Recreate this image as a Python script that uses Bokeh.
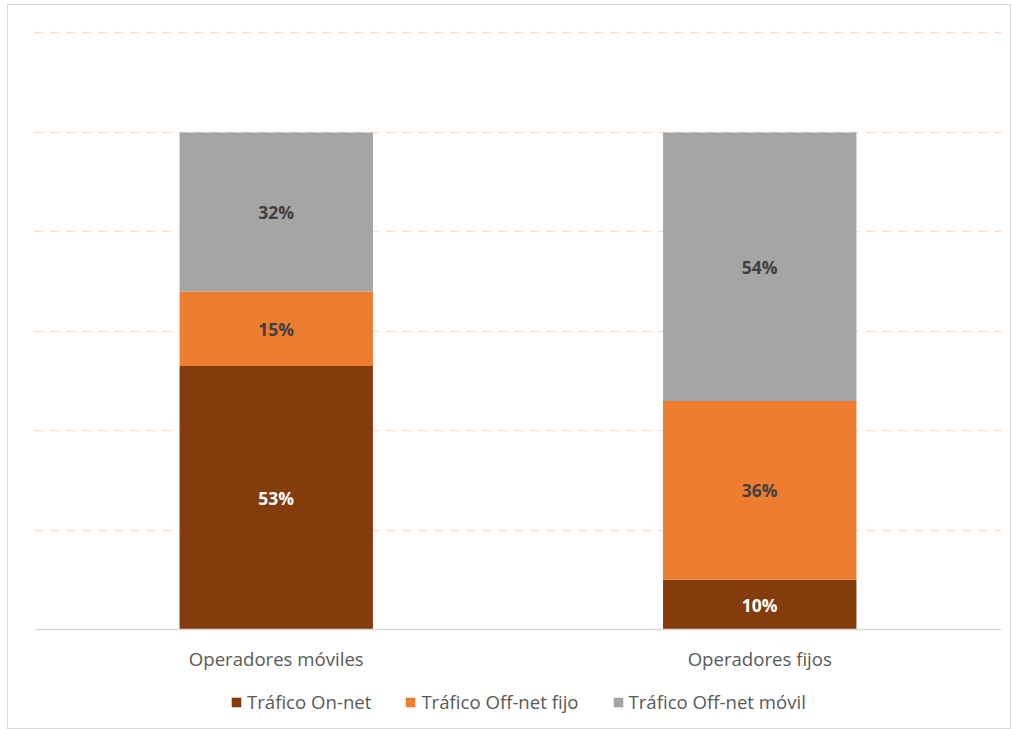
from bokeh.plotting import figure
from bokeh.models import Range1d, FixedTicker, ColumnDataSource, Legend, Span
from bokeh.core.properties import value
from bokeh.embed import file_html
from bokeh.resources import INLINE

categories = ["Operadores móviles", "Operadores fijos"]
series = ["Tráfico On-net", "Tráfico Off-net fijo", "Tráfico Off-net móvil"]
on_net = [0.53, 0.10]
off_fijo = [0.15, 0.36]
off_movil = [0.32, 0.54]
colors = ["#843C0C", "#ED7D31", "#A5A5A5"]
label_colors = ["#FFFFFF", "#404040", "#404040"]
grid_ticks = [0.2, 0.4, 0.6, 0.8, 1.0, 1.2]

FONT = "Open Sans"

# layout (pixels)
TOP = 26          # border above plotting frame
AXIS_PX = 597     # pixels from 0% to 120% gridline
BELOW_PX = 101    # pixels from 0% axis to bottom of figure
Y_TOP = 1.203
px_per_unit = AXIS_PX / 1.2
y_start = -BELOW_PX / px_per_unit

data = {"cat": categories, "on": on_net, "fijo": off_fijo, "movil": off_movil}
src = ColumnDataSource(data)

p = figure(x_range=categories, y_range=Range1d(y_start, Y_TOP), width=1004,
           height=TOP + AXIS_PX + BELOW_PX + 1,
           output_backend="svg", toolbar_location=None,
           min_border_left=26, min_border_right=11, min_border_top=TOP, min_border_bottom=0)
p.styles = {"border": "1px solid #D9D9D9", "margin-left": "7px", "margin-top": "4px"}

renderers = p.vbar_stack(["on", "fijo", "movil"], x="cat", width=0.4, source=src,
                         color=colors, line_color=None)

# percentage labels
xs, ys, txt, tc = [], [], [], []
base = [0.0] * len(categories)
for vals, lc in zip([on_net, off_fijo, off_movil], label_colors):
    for i, c in enumerate(categories):
        xs.append(c)
        ys.append(base[i] + vals[i] / 2)
        txt.append(f"{round(vals[i]*100)}%")
        tc.append(lc)
        base[i] += vals[i]
p.text(x=xs, y=ys, text=txt, text_color=tc, text_align="center", text_baseline="middle",
       text_font=value(FONT), text_font_style="bold", text_font_size="17.5px")

# category axis
p.add_layout(Span(location=0, dimension="width", line_color="#D9D9D9", line_width=1.5))
p.text(x=categories, y=[0] * len(categories), text=categories, y_offset=29,
       text_align="center", text_baseline="middle", text_color="#595959",
       text_font=value(FONT), text_font_size="18.6px")

legend = Legend(items=[(s, [r]) for s, r in zip(series, renderers)], orientation="horizontal",
                location=(196, 16), border_line_color=None, background_fill_alpha=0,
                label_text_font=FONT, label_text_font_size="18.6px", label_text_color="#595959",
                glyph_width=12, glyph_height=12, label_height=24, label_standoff=5, spacing=33,
                padding=0, margin=0)
p.add_layout(legend)

p.xaxis.visible = False
p.yaxis.visible = False
p.ygrid.ticker = FixedTicker(ticks=grid_ticks)
p.ygrid.grid_line_color = "#FBDCC6"
p.ygrid.grid_line_width = 1.5
p.ygrid.grid_line_dash = "9 7"
p.xgrid.grid_line_color = None
p.outline_line_color = None
p.x_range.range_padding = 0

open("out.html", "w").write(file_html(p, INLINE))
